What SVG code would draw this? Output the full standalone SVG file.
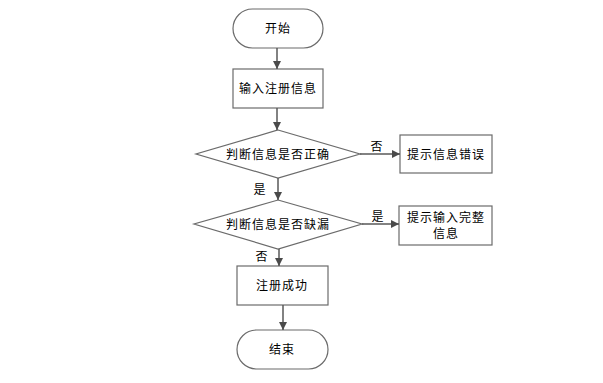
<svg xmlns="http://www.w3.org/2000/svg" width="603" height="383" viewBox="0 0 603 383">
<style>
.s{fill:#fff;stroke:#6b6b6b;stroke-width:1.2}
.t{font-family:"Noto Sans CJK SC","Noto Sans CJK JP",sans-serif;font-size:12px;fill:#000;text-anchor:middle;letter-spacing:1px}
.c{stroke:#595959;stroke-width:1.5;fill:none;marker-end:url(#a)}
</style>
<defs>
<marker id="a" viewBox="0 0 10 10" refX="10" refY="5" markerWidth="8" markerHeight="8" markerUnits="userSpaceOnUse" orient="auto">
<path d="M0,0L10,5L0,10z" fill="#4a4a4a"/>
</marker>
</defs>
<rect width="603" height="383" fill="#fff"/>
<g id="start"><rect class="s" x="233" y="9" width="90" height="39" rx="19.5"/><text class="t" x="278" y="32.5">开始</text></g>
<g id="input"><rect class="s" x="233" y="69" width="90" height="39"/><text class="t" x="278" y="92.5">输入注册信息</text></g>
<g id="check1"><path class="s" d="M278,130L360,154L278,178L196,154z"/><text class="t" x="278" y="158.5">判断信息是否正确</text></g>
<g id="err"><rect class="s" x="400" y="135" width="92" height="38"/><text class="t" x="446" y="158.5">提示信息错误</text></g>
<g id="check2"><path class="s" d="M278,200L362,224L278,249L194,224z"/><text class="t" x="278" y="228.5">判断信息是否缺漏</text></g>
<g id="hint"><rect class="s" x="399" y="206" width="93" height="39"/><text class="t" x="446" y="221.5">提示输入完整</text><text class="t" x="446" y="237.5">信息</text></g>
<g id="ok"><rect class="s" x="237" y="266" width="91" height="39"/><text class="t" x="282" y="289.5">注册成功</text></g>
<g id="end"><rect class="s" x="237" y="330" width="91" height="39" rx="19.5"/><text class="t" x="282" y="353.5">结束</text></g>
<g id="connectors">
<path class="c" d="M277,48V69"/>
<path class="c" d="M277,108V130"/>
<path class="c" d="M360,154H400"/>
<path class="c" d="M278,178V200"/>
<path class="c" d="M362,224H399"/>
<path class="c" d="M279,249V266"/>
<path class="c" d="M283,305V330"/>
<text class="t" x="377" y="151">否</text>
<text class="t" x="260" y="194">是</text>
<text class="t" x="378" y="221">是</text>
<text class="t" x="262" y="261">否</text>
</g>
</svg>
